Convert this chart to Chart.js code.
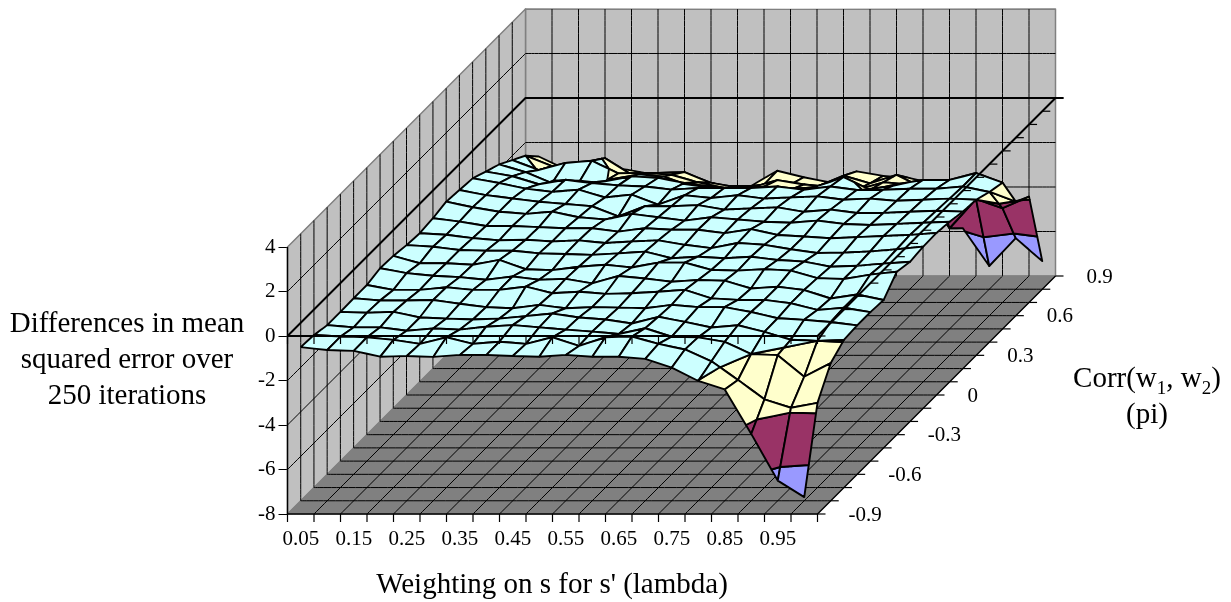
<!DOCTYPE html>
<html lang="en">
<head>
    <meta charset="UTF-8">
    <title>Differences in mean squared error</title>
    <style>
        body { margin: 0; background: #fff; font-family: "Liberation Serif", serif; color: #000; }
        #wrap { position: relative; width: 1231px; height: 602px; overflow: hidden; }
        canvas { position: absolute; left: 0; top: 0; }
        .title { position: absolute; font-size: 29px; line-height: 36px; text-align: center; white-space: nowrap; }
        .title sub { font-size: 19px; line-height: 0; }
    </style>
    <script src="https://cdn.jsdelivr.net/npm/chart.js"></script>
</head>
<body>
<div id="wrap">
    <canvas id="surface" width="1231" height="602"></canvas>
    <div class="title" style="left:0;width:254px;top:304px">Differences in mean<br>squared error over<br>250 iterations</div>
    <div class="title" style="left:352px;width:400px;top:565px">Weighting on s for s' (lambda)</div>
    <div class="title" style="left:1047px;width:200px;top:359px">Corr(w<sub>1</sub>, w<sub>2</sub>)<br>(pi)</div>
</div>

<script>
    const lambdaLabels = ['0.05', '0.15', '0.25', '0.35', '0.45', '0.55', '0.65', '0.75', '0.85', '0.95'];
    const piLabels = ['-0.9', '-0.6', '-0.3', '0', '0.3', '0.6', '0.9'];
    const zTicks = [-8, -6, -4, -2, 0, 2, 4];
    const bandEdges = [-8, -6, -4, -2, 0];

    // one row per pi value, front (-0.9) to back (0.9), 20 lambda values each
    const zRow00 = [-0.50,-0.63,-0.67,-0.93,-0.90,-0.94,-0.85,-0.85,-0.90,-0.93,-0.85,-0.93,-0.93,-1.03,-1.42,-2.02,-2.40,-4.40,-6.50,-7.24];
    const zRow01 = [-0.55,-0.62,-0.65,-0.77,-0.95,-0.65,-0.95,-0.85,-0.95,-0.65,-1.04,-0.65,-0.62,-0.95,-1.20,-1.73,-2.57,-3.44,-3.82,-3.60];
    const zRow02 = [-0.70,-0.80,-0.80,-0.95,-0.85,-0.90,-0.77,-0.70,-0.80,-0.90,-0.99,-1.10,-0.84,-1.22,-1.25,-1.45,-2.00,-2.05,-3.02,-2.41];
    const zRow03 = [-0.70,-0.74,-0.70,-0.95,-1.00,-1.04,-1.00,-0.89,-0.77,-0.95,-1.04,-1.22,-0.92,-1.15,-1.40,-1.30,-1.60,-1.95,-2.00,-1.96];
    const zRow04 = [-0.68,-0.78,-0.78,-0.76,-0.93,-1.08,-1.13,-0.98,-1.13,-1.08,-1.10,-1.13,-0.98,-1.08,-1.08,-1.30,-1.58,-1.65,-1.75,-1.90];
    const zRow05 = [-0.68,-0.90,-0.90,-0.78,-0.90,-0.90,-0.75,-1.05,-0.98,-1.08,-1.05,-0.98,-0.90,-1.28,-1.35,-1.35,-1.50,-1.80,-1.70,-1.90];
    const zRow06 = [-0.52,-0.74,-0.86,-0.92,-1.04,-0.89,-1.04,-1.00,-1.20,-0.87,-0.98,-1.13,-1.05,-1.08,-1.43,-1.35,-1.50,-1.88,-1.70,-1.95];
    const zRow07 = [-0.56,-0.89,-0.89,-0.96,-0.74,-1.16,-1.20,-1.05,-0.96,-1.08,-0.86,-0.86,-1.19,-1.22,-1.16,-1.22,-1.56,-1.60,-1.40,-1.27];
    const zRow08 = [-0.67,-0.74,-0.89,-0.92,-0.92,-1.04,-1.07,-1.11,-1.04,-0.96,-1.26,-1.19,-1.26,-1.19,-1.34,-1.41,-1.64,-1.60,-1.50,-1.42];
    const zRow09 = [-0.73,-0.80,-0.95,-1.05,-1.02,-1.10,-1.05,-1.17,-1.10,-1.05,-1.25,-1.40,-1.17,-1.25,-1.45,-1.62,-1.60,-1.55,-1.45,-1.33];
    const zRow10 = [-0.65,-0.80,-1.00,-1.00,-1.05,-1.10,-1.10,-1.25,-1.10,-1.17,-1.17,-1.32,-1.14,-1.40,-1.47,-1.55,-1.50,-1.45,-1.40,-1.31];
    const zRow11 = [-0.50,-0.75,-0.95,-1.05,-0.95,-1.20,-1.30,-1.05,-1.20,-1.35,-1.20,-1.30,-1.40,-1.45,-1.35,-1.50,-1.55,-1.50,-1.45,-1.40];
    const zRow12 = [-0.57,-0.80,-0.95,-1.10,-1.20,-1.30,-1.75,-1.30,-1.30,-1.25,-1.45,-1.40,-1.35,-1.55,-1.45,-1.60,-1.60,-1.55,-1.50,-1.54];
    const zRow13 = [-0.64,-0.85,-1.10,-1.25,-1.15,-1.50,-1.37,-1.82,-1.40,-1.52,-1.40,-1.55,-1.50,-1.45,-1.60,-1.55,-1.65,-1.60,-1.55,-1.60];
    const zRow14 = [-0.93,-1.14,-1.50,-1.30,-1.45,-1.55,-1.60,-1.74,-1.67,-1.67,-1.67,-1.60,-1.75,-1.60,-1.76,-1.75,-1.70,-1.70,-1.60,-1.85];
    const zRow15 = [-1.20,-1.55,-2.05,-2.05,-1.96,-1.74,-1.81,-2.04,-2.20,-2.30,-2.20,-2.35,-2.20,-1.77,-2.35,-2.10,-1.90,-1.90,-1.59,-2.02];
    const zRow16 = [-1.60,-2.05,-1.73,-1.63,-2.20,-2.18,-2.26,-2.60,-2.85,-2.85,-2.50,-2.70,-2.80,-2.94,-2.60,-2.70,-2.80,-3.40,-3.02,-3.47];
    const zRow17 = [-2.00,-2.47,-2.90,-2.11,-2.85,-2.77,-2.74,-3.22,-3.42,-3.30,-3.30,-3.39,-2.90,-3.24,-2.86,-3.45,-5.26,-3.95,-4.36,-3.84];
    const zRow18 = [-2.63,-3.20,-3.40,-3.15,-3.37,-3.60,-3.74,-3.95,-3.95,-3.27,-3.56,-3.80,-3.30,-3.50,-3.60,-3.87,-5.85,-7.55,-6.30,-7.33];
    const zRows = [zRow00, zRow01, zRow02, zRow03, zRow04, zRow05, zRow06, zRow07, zRow08, zRow09,
                   zRow10, zRow11, zRow12, zRow13, zRow14, zRow15, zRow16, zRow17, zRow18];

    // layout in pixels
    const cellW = 26.5, zUnit = 22.25, depthStep = 238 / 18, tickPx = 8;
    const areaLeft = 287.5, areaRight = 1063, areaTop = 9.5, areaBottom = 514;
    const nCells = 20, nDepth = 18, zFloor = -8, zTop = 4;
    const depthX = depthStep / cellW, depthY = depthStep / zUnit, tickX = tickPx / cellW, tickY = tickPx / zUnit;
    const bandColors = ['#9999FF', '#993366', '#FFFFCC', '#CCFFFF'];
    const wallGrey = '#C0C0C0', floorGrey = '#808080';

    // oblique projection: c = lambda cell position, d = depth step, z = value
    const project = (c, d, z) => ({ x: c + d * depthX, y: z + d * depthY });

    const layers = [];
    function addLine(points, color, width) {
        layers.push({ data: points, showLine: true, pointRadius: 0, borderColor: color, borderWidth: width,
                      fill: false, tension: 1e-6, clip: false, borderJoinStyle: 'round' });
    }
    function addPoly(points, fillColor, lineColor, width) {
        const closed = points.concat([points[0]]);
        layers.push({ data: closed, showLine: true, pointRadius: 0, borderColor: lineColor, borderWidth: width,
                      backgroundColor: fillColor, fill: 'shape', tension: 1e-6, clip: false, borderJoinStyle: 'round' });
    }

    // walls and floor
    addPoly([project(0, nDepth, zFloor), project(nCells, nDepth, zFloor), project(nCells, nDepth, zTop), project(0, nDepth, zTop)], wallGrey, floorGrey, 1.5);
    addPoly([project(0, 0, zFloor), project(0, nDepth, zFloor), project(0, nDepth, zTop), project(0, 0, zTop)], wallGrey, floorGrey, 1.5);
    addPoly([project(0, 0, zFloor), project(nCells, 0, zFloor), project(nCells, nDepth, zFloor), project(0, nDepth, zFloor)], floorGrey, floorGrey, 1);

    for (let c = 1; c < nCells; c++) {
        addLine([project(c, nDepth, zFloor), project(c, nDepth, zTop)], '#000', 1);
        addLine([project(c, 0, zFloor), project(c, nDepth, zFloor)], '#000', 1);
    }
    for (let d = 1; d < nDepth; d++) {
        addLine([project(0, d, zFloor), project(0, d, zTop)], '#000', 1);
        addLine([project(0, d, zFloor), project(nCells, d, zFloor)], '#000', 1);
    }
    zTicks.forEach(z => {
        if (z === zFloor || z === 0 || z === zTop) return;
        addLine([project(0, 0, z), project(0, nDepth, z), project(nCells, nDepth, z)], '#000', 1);
    });
    // z = 0 plane, the part behind the surface
    addLine([project(0, 0, 0), project(0, nDepth, 0), { x: project(nCells, nDepth, 0).x + tickX, y: project(nCells, nDepth, 0).y }], '#000', 2);

    // cut a polygon of {c, d, z} vertices down to one z band
    function clipBand(poly, lo, hi) {
        const cut = (pts, inside, level) => {
            const out = [];
            pts.forEach((p, k) => {
                const q = pts[(k + 1) % pts.length];
                if (inside(p)) out.push(p);
                if (inside(p) !== inside(q)) {
                    const t = (level - p.z) / (q.z - p.z);
                    out.push({ c: p.c + t * (q.c - p.c), d: p.d + t * (q.d - p.d), z: level });
                }
            });
            return out;
        };
        const a = cut(poly, p => p.z >= lo, lo);
        return a.length ? cut(a, p => p.z <= hi, hi) : a;
    }

    // surface, back rows first so nearer cells paint over them
    for (let d = nDepth - 1; d >= 0; d--) {
        for (let k = 0; k < nCells - 1; k++) {
            const c = k + 0.5;
            const quad = [
                { c: c, d: d, z: zRows[d][k] },
                { c: c + 1, d: d, z: zRows[d][k + 1] },
                { c: c + 1, d: d + 1, z: zRows[d + 1][k + 1] },
                { c: c, d: d + 1, z: zRows[d + 1][k] }
            ];
            bandColors.forEach((color, b) => {
                const part = clipBand(quad, bandEdges[b], bandEdges[b + 1]);
                if (part.length > 2) addPoly(part.map(p => project(p.c, p.d, p.z)), color, '#000', 1.9);
            });
        }
    }

    // z = 0 plane front edges with their ticks, on top of the surface
    addLine([project(0, 0, 0), project(nCells, 0, 0), project(nCells, nDepth, 0)], '#000', 2);
    for (let c = 0; c <= nCells; c++) {
        const p = project(c, 0, 0);
        addLine([p, { x: p.x, y: p.y - tickY }], '#000', 1.2);
    }
    for (let d = 0; d <= nDepth; d++) {
        const p = project(nCells, d, 0);
        addLine([p, { x: p.x + tickX, y: p.y }], '#000', 1.2);
    }

    // floor edges and ticks
    addLine([project(0, 0, zFloor), project(nCells, 0, zFloor), project(nCells, nDepth, zFloor)], '#000', 1.4);
    addLine([project(0, 0, zFloor), project(0, 0, zTop)], '#000', 1.4);
    for (let c = 0; c <= nCells; c++) {
        const p = project(c, 0, zFloor);
        addLine([p, { x: p.x, y: p.y - tickY }], '#000', 1.2);
    }
    for (let d = 0; d <= nDepth; d++) {
        const p = project(nCells, d, zFloor);
        addLine([p, { x: p.x + tickX, y: p.y }], '#000', 1.2);
    }

    // labels for the depth axis, placed through the same scales
    const depthLabels = {
        id: 'depthLabels',
        afterDraw(chart) {
            const ctx = chart.ctx;
            ctx.save();
            ctx.font = '21px "Liberation Serif"';
            ctx.fillStyle = '#000';
            ctx.textAlign = 'left';
            ctx.textBaseline = 'middle';
            piLabels.forEach((label, k) => {
                const p = project(nCells, k * 3, zFloor);
                ctx.fillText(label, chart.scales.x.getPixelForValue(p.x) + 31, chart.scales.y.getPixelForValue(p.y) + 1);
            });
            ctx.restore();
        }
    };

    new Chart(document.getElementById('surface'), {
        type: 'scatter',
        data: { datasets: layers.reverse() },
        plugins: [depthLabels],
        options: {
            responsive: false,
            animation: false,
            events: [],
            layout: { padding: { left: 0, right: 1231 - areaRight, top: areaTop, bottom: 0 } },
            plugins: { legend: { display: false }, tooltip: { enabled: false }, filler: { drawTime: 'beforeDatasetDraw' } },
            scales: {
                x: {
                    type: 'linear',
                    min: 0,
                    max: (areaRight - areaLeft) / cellW,
                    afterFit(scale) { scale.height = 602 - areaBottom; scale.paddingLeft = 0; scale.paddingRight = 0; },
                    afterBuildTicks(scale) { scale.ticks = lambdaLabels.map((l, k) => ({ value: 2 * k + 0.5 })); },
                    grid: { display: false, drawTicks: false },
                    border: { display: false },
                    ticks: {
                        callback: (v, k) => lambdaLabels[k],
                        autoSkip: false,
                        maxRotation: 0,
                        padding: 13,
                        color: '#000',
                        font: { family: '"Liberation Serif"', size: 21 }
                    }
                },
                y: {
                    type: 'linear',
                    min: zFloor,
                    max: zTop + (areaBottom - areaTop - (zTop - zFloor) * zUnit) / zUnit,
                    afterFit(scale) { scale.width = areaLeft; scale.paddingTop = 0; scale.paddingBottom = 0; },
                    afterBuildTicks(scale) { scale.ticks = zTicks.map(z => ({ value: z })); },
                    grid: { drawOnChartArea: false, drawTicks: true, tickLength: 9, tickColor: '#000', lineWidth: 1 },
                    border: { display: false },
                    ticks: {
                        padding: 3,
                        color: '#000',
                        font: { family: '"Liberation Serif"', size: 21 }
                    }
                }
            }
        }
    });
</script>
</body>
</html>
